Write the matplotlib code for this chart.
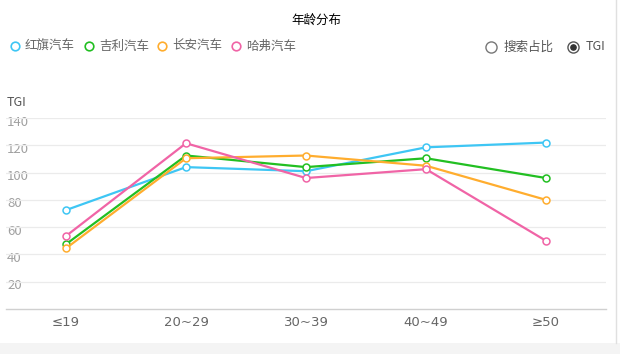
import matplotlib
matplotlib.use('Agg')
import matplotlib.pyplot as plt
from matplotlib.patches import Rectangle
from matplotlib.lines import Line2D

plt.rcParams['font.family'] = ['Noto Sans CJK SC', 'DejaVu Sans']

categories = ['≤19', '20~29', '30~39', '40~49', '≥50']
hongqi = [72.5, 104, 101, 118.5, 122]
geely = [47.5, 112.5, 104, 110.5, 96]
changan = [44.5, 110.5, 112.5, 105, 80]
haval = [53.5, 121.5, 96, 102.5, 50]
names = ['红旗汽车', '吉利汽车', '长安汽车', '哈弗汽车']
colors = ['#3ec6f4', '#22bf22', '#ffad2e', '#f064a6']
yticks = [20, 40, 60, 80, 100, 120, 140]

W, H = 620, 354
fig = plt.figure(figsize=(W / 100, H / 100), dpi=100)
ax = fig.add_axes([6 / W, (H - 309) / H, 600 / W, 191 / H])

x = list(range(len(categories)))
for series, c in zip([hongqi, geely, changan, haval], colors):
    ax.plot(x, series, color=c, linewidth=1.6, marker='o', markersize=5,
            markerfacecolor='white', markeredgecolor=c, markeredgewidth=1.1,
            zorder=3)

ax.set_xlim(-0.5, 4.5)
ax.set_ylim(0, 140)
for v in yticks:
    ax.axhline(v, color='#ebebeb', linewidth=0.9, zorder=1)
    ax.text(1 / 600, v - 3, str(v), transform=ax.get_yaxis_transform(),
            ha='left', va='center', fontsize=9.5, color='#a0a0a0', zorder=0)
ax.set_yticks([])
ax.set_xticks(x)
ax.set_xticklabels(categories, fontsize=9.5, color='#666666', family=['DejaVu Sans'])
ax.tick_params(axis='x', length=0, pad=5)
for s in ['top', 'right', 'left']:
    ax.spines[s].set_visible(False)
ax.spines['bottom'].set_color('#d0d0d0')
ax.spines['bottom'].set_linewidth(1)

# labels and title
fig.text(7 / W, 1 - 103 / H, 'TGI', fontsize=9, color='#555555', va='center', ha='left')
fig.text(316 / W, 1 - 20 / H, '年龄分布', fontsize=9, color='#000000', va='center', ha='center')

# legend
leg_x = [15, 89, 162, 236]
for lx, name, c in zip(leg_x, names, colors):
    fig.add_artist(Line2D([lx / W], [1 - 46 / H], marker='o', markersize=6.2,
                          markerfacecolor='white', markeredgecolor=c,
                          markeredgewidth=1.2, linestyle='none'))
    fig.text((lx + 10) / W, 1 - 46 / H, name, fontsize=9, color='#666666',
             va='center', ha='left')

# radio buttons
fig.add_artist(Line2D([491 / W], [1 - 47 / H], marker='o', markersize=8,
                      markerfacecolor='white', markeredgecolor='#777777',
                      markeredgewidth=1, linestyle='none'))
fig.text(504 / W, 1 - 47 / H, '搜索占比', fontsize=9, color='#555555', va='center', ha='left')
fig.add_artist(Line2D([573 / W], [1 - 47 / H], marker='o', markersize=8,
                      markerfacecolor='white', markeredgecolor='#555555',
                      markeredgewidth=1, linestyle='none'))
fig.add_artist(Line2D([573 / W], [1 - 47 / H], marker='o', markersize=3.8,
                      markerfacecolor='#333333', markeredgecolor='#333333',
                      linestyle='none'))
fig.text(586 / W, 1 - 47 / H, 'TGI', fontsize=9, color='#555555', va='center', ha='left')

# frame decorations
fig.add_artist(Line2D([616 / W, 616 / W], [1 - 0 / H, 1 - 343 / H], color='#e0e0e0', linewidth=1))
fig.add_artist(Rectangle((0, 0), 1, 11 / H, transform=fig.transFigure,
                         facecolor='#f4f4f4', edgecolor='none'))

fig.savefig('out.png', dpi=100)
